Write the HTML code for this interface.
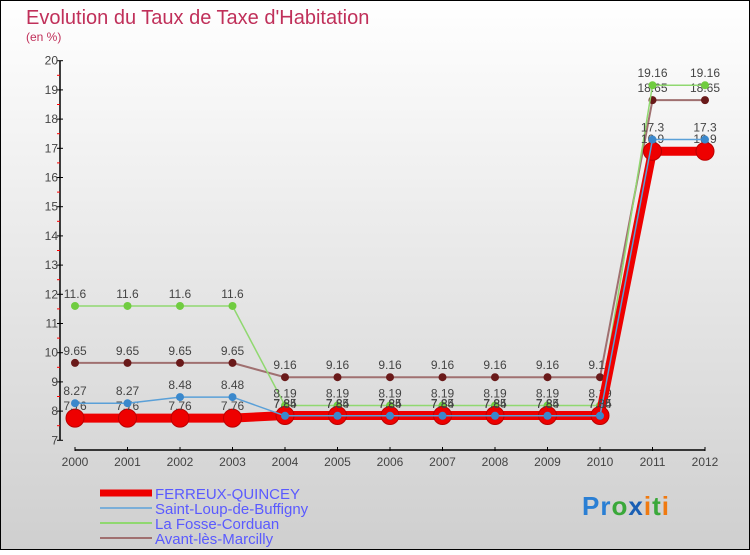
<!DOCTYPE html>
<html><head><meta charset="utf-8"><style>
html,body{margin:0;padding:0}
body{width:750px;height:550px;overflow:hidden;font-family:"Liberation Sans",sans-serif}
</style></head><body>
<svg id="chart" width="750" height="550" xmlns="http://www.w3.org/2000/svg" font-family="Liberation Sans, sans-serif">
<defs><linearGradient id="bg" x1="0" y1="0" x2="0" y2="1"><stop offset="0" stop-color="#ffffff"/><stop offset="1" stop-color="#cfcfcf"/></linearGradient></defs>
<rect x="0.5" y="0.5" width="749" height="549" fill="url(#bg)" stroke="#000"/>
<text x="26" y="24" font-size="20" fill="#c0305a">Evolution du Taux de Taxe d'Habitation</text>
<text x="26" y="41" font-size="12" fill="#c0305a">(en %)</text>
<g id="axes"></g>
<g id="series"></g>
<g id="legend"></g>
<text x="582" y="515" font-size="26" font-weight="bold" letter-spacing="1"><tspan fill="#2a7fd4">Pr</tspan><tspan fill="#3aa83a">o</tspan><tspan fill="#1a5fb4">x</tspan><tspan fill="#f07a10">i</tspan><tspan fill="#3aa83a">t</tspan><tspan fill="#f07a10">i</tspan></text>
</svg>
<script>
const years=["2000","2001","2002","2003","2004","2005","2006","2007","2008","2009","2010","2011","2012"];
const yTicks=[7,8,9,10,11,12,13,14,15,16,17,18,19,20];
const ferreux=[7.76,7.76,7.76,7.76,7.85,7.85,7.85,7.85,7.85,7.85,7.85,16.9,16.9];
const saintLoup=[8.27,8.27,8.48,8.48,7.84,7.84,7.84,7.84,7.84,7.84,7.84,17.3,17.3];
const laFosse=[11.6,11.6,11.6,11.6,8.19,8.19,8.19,8.19,8.19,8.19,8.19,19.16,19.16];
const avant=[9.65,9.65,9.65,9.65,9.16,9.16,9.16,9.16,9.16,9.16,9.16,18.65,18.65];
const seriesNames=["FERREUX-QUINCEY","Saint-Loup-de-Buffigny","La Fosse-Corduan","Avant-lès-Marcilly"];

const NS="http://www.w3.org/2000/svg";
const X=i=>75+i*52.5;
const Y=v=>60.7+(20-v)*29.2;
function mk(tag,attrs,parent){const e=document.createElementNS(NS,tag);for(const k in attrs)e.setAttribute(k,attrs[k]);parent.appendChild(e);return e;}
const axes=document.getElementById('axes');
let yl=mk('line',{x1:60,y1:Y(20),x2:60,y2:Y(7),stroke:'#000','stroke-width':1.5},axes);


yTicks.forEach(v=>{
  let t=mk('line',{x1:57,x2:63,y1:Y(v),y2:Y(v),stroke:'#000'},axes);
  
  
  if(v<20){let m=mk('line',{x1:57,x2:60,y1:Y(v+0.5),y2:Y(v+0.5),stroke:'#f00'},axes);
  
  }
  let l=mk('text',{x:58,y:Y(v)+4,'font-size':12,'text-anchor':'end',fill:'#444'},axes);
  
  
  l.textContent=v;
});
let xl=mk('line',{x1:X(0),y1:450,x2:X(12),y2:450,stroke:'#000','stroke-width':1.5},axes);


years.forEach((y,i)=>{
  let t=mk('line',{x1:X(i),x2:X(i),y1:447,y2:451,stroke:'#000'},axes);
  
  
  let l=mk('text',{x:X(i),y:466,'font-size':12,'text-anchor':'middle',fill:'#444'},axes);
  
  
  l.textContent=y;
});
const sg=document.getElementById('series');
const defs=[
 {d:avant,c:'#a07070',p:'#6a1a1a',w:2,r:4,name:'avant'},
 {d:laFosse,c:'#90d870',p:'#70cc40',w:1.5,r:4,name:'la-fosse'},
 {d:ferreux,c:'#ee0000',p:'#ee0000',w:9,r:9,name:'ferreux'},
 {d:saintLoup,c:'#5aa0d8',p:'#3a88cc',w:1.5,r:4,name:'saint-loup'}
];
defs.forEach(s=>{
  let pl=mk('polyline',{points:s.d.map((v,i)=>X(i)+','+Y(v)).join(' '),fill:'none',stroke:s.c,'stroke-width':s.w},sg);
  
  
  s.d.forEach((v,i)=>{
    let c=mk('circle',{cx:X(i),cy:Y(v),r:s.r,fill:s.p,stroke:s.name==='ferreux'?'#b00':'none'},sg);
    
    
    let t=mk('text',{x:X(i),y:Y(v)-8,'font-size':12,'text-anchor':'middle',fill:'#444'},sg);
    
    
    t.textContent=v;
  });
});
const lg=document.getElementById('legend');
const lc=['#ee0000','#7aaed8','#90d870','#a07070'];
seriesNames.forEach((n,i)=>{
  const y=493+i*15;
  let l=mk('line',{x1:100,x2:152,y1:y,y2:y,stroke:lc[i],'stroke-width':i===0?7:2},lg);
  
  
  let t=mk('text',{x:155,y:y+6,'font-size':15,fill:'#5a5aff'},lg);
  
  
  t.textContent=n;
});
</script>
</body></html>
